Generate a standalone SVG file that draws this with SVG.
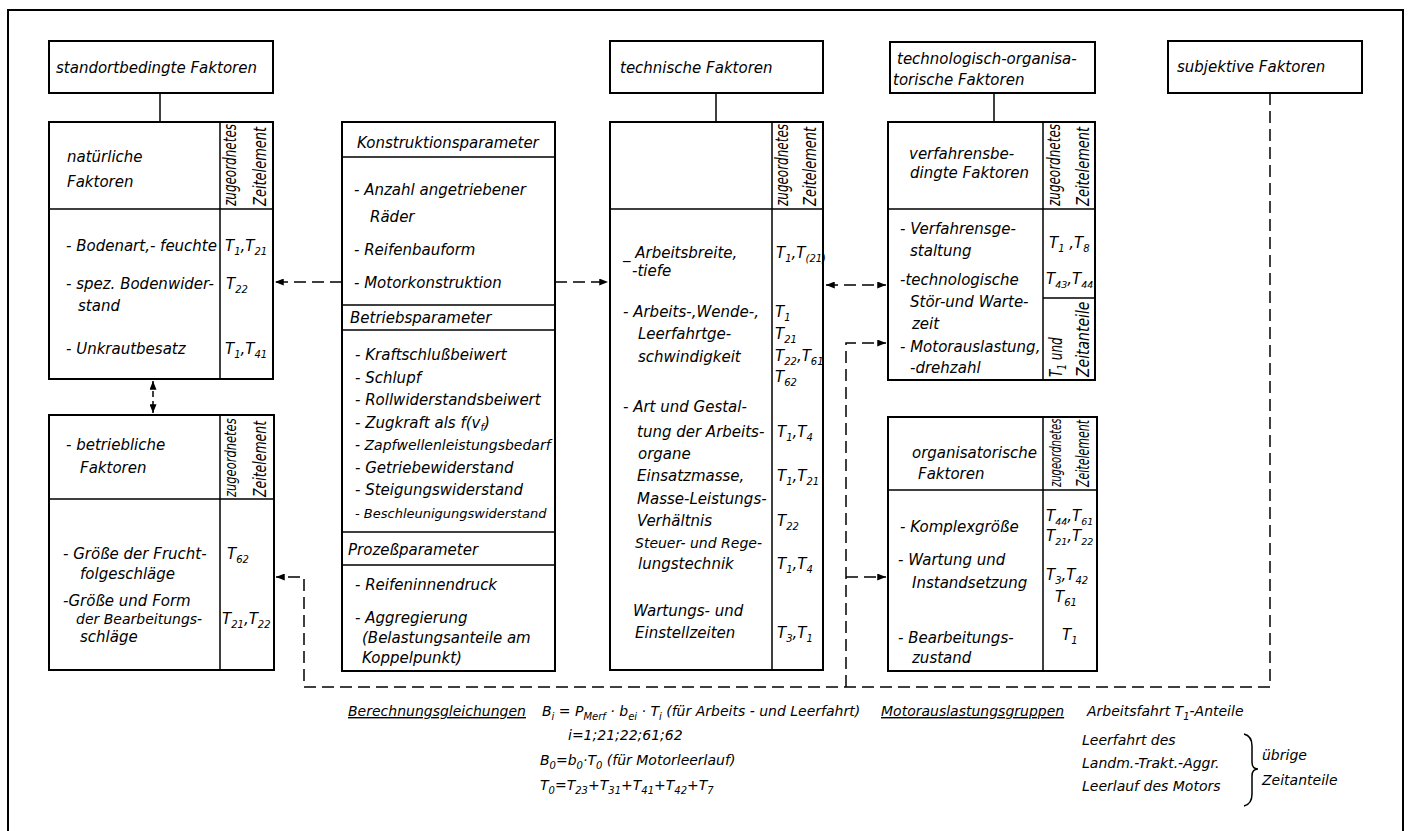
<svg xmlns="http://www.w3.org/2000/svg" width="1410" height="831" viewBox="0 0 1410 831">
<defs>
<style>
text{font-family:"DejaVu Sans","Liberation Sans",sans-serif;font-style:italic;font-size:15px;fill:#000}
.b{font-size:14px}
.m{font-size:14px}
.s{font-size:10px}
.box{fill:#fff;stroke:#000;stroke-width:2}
.ln{fill:none;stroke:#000;stroke-width:1.5}
.dash{fill:none;stroke:#000;stroke-width:1.5;stroke-dasharray:12 6}
.frame{fill:none;stroke:#000;stroke-width:2}
</style>
<marker id="ah" viewBox="0 0 10 8" refX="10" refY="4" markerWidth="11" markerHeight="7" markerUnits="userSpaceOnUse" orient="auto-start-reverse">
<path d="M0,0 L10,4 L0,8 Z" fill="#000"/>
</marker>
</defs>
<rect width="1410" height="831" fill="#fff"/>
<path class="frame" d="M8,840 V10 H1403 V840"/>

<g id="connectors">
<path class="dash" d="M342,282 H275" marker-end="url(#ah)"/>
<path class="dash" d="M555,282 H608" marker-end="url(#ah)"/>
<path class="dash" d="M826,285 H886" marker-start="url(#ah)" marker-end="url(#ah)"/>
<path class="dash" d="M846,687 V343 H886" marker-end="url(#ah)"/>
<path class="dash" d="M846,577 H886" marker-end="url(#ah)"/>
<path class="dash" d="M1270,93 V687 H304 V577 H276" marker-end="url(#ah)"/>
<path class="dash" style="stroke-dasharray:6 4" d="M153,381 V413" marker-start="url(#ah)" marker-end="url(#ah)"/>
<path class="ln" d="M160,93 V122"/>
<path class="ln" d="M716,93 V122"/>
<path class="ln" d="M994,93 V122"/>
</g>

<g id="standort">
<rect class="box" x="49" y="41" width="224" height="52"/>
<text x="56" y="73">standortbedingte Faktoren</text>
</g>

<g id="natuerlich">
<rect class="box" x="49" y="122" width="224" height="257"/>
<path class="ln" d="M49,209 H273 M220,122 V379"/>
<text x="67" y="162">natürliche</text>
<text x="67" y="187">Faktoren</text>
<text style="font-size:12px" transform="translate(236,206) rotate(-90) scale(1,1.4)">zugeordnetes</text>
<text style="font-size:13px" transform="translate(266,206) rotate(-90) scale(1,1.4)">Zeitelement</text>
<text x="66" y="251">- Bodenart,- feuchte</text>
<text x="225" y="251">T<tspan class="s" dy="4">1</tspan><tspan dy="-4">,T</tspan><tspan class="s" dy="4">21</tspan></text>
<text x="66" y="289">- spez. Bodenwider-</text>
<text x="78" y="311">stand</text>
<text x="226" y="289">T<tspan class="s" dy="4">22</tspan></text>
<text x="66" y="354">- Unkrautbesatz</text>
<text x="225" y="354">T<tspan class="s" dy="4">1</tspan><tspan dy="-4">,T</tspan><tspan class="s" dy="4">41</tspan></text>
</g>

<g id="betrieblich">
<rect class="box" x="49" y="415" width="225" height="255"/>
<path class="ln" d="M49,499 H274 M220,415 V670"/>
<text x="66" y="450">- betriebliche</text>
<text x="80" y="473">Faktoren</text>
<text style="font-size:11.5px" transform="translate(236,497) rotate(-90) scale(1,1.45)">zugeordnetes</text>
<text style="font-size:12.5px" transform="translate(266,497) rotate(-90) scale(1,1.45)">Zeitelement</text>
<text x="63" y="559">- Größe der Frucht-</text>
<text x="80" y="579">folgeschläge</text>
<text x="227" y="559">T<tspan class="s" dy="4">62</tspan></text>
<text x="63" y="606">-Größe und Form</text>
<text class="m" x="76" y="624">der Bearbeitungs-</text>
<text x="80" y="642">schläge</text>
<text x="222" y="624">T<tspan class="s" dy="4">21</tspan><tspan dy="-4">,T</tspan><tspan class="s" dy="4">22</tspan></text>
</g>

<g id="parameter">
<rect class="box" x="342" y="122" width="213" height="549"/>
<path class="ln" d="M342,157 H555 M342,305 H555 M342,330 H555 M342,532 H555 M342,565 H555"/>
<text x="357" y="148">Konstruktionsparameter</text>
<text x="354" y="195">- Anzahl angetriebener</text>
<text x="370" y="222">Räder</text>
<text x="354" y="255">- Reifenbauform</text>
<text x="354" y="288">- Motorkonstruktion</text>
<text x="350" y="323">Betriebsparameter</text>
<text x="355" y="360">- Kraftschlußbeiwert</text>
<text x="355" y="383">- Schlupf</text>
<text x="355" y="405">- Rollwiderstandsbeiwert</text>
<text x="355" y="428">- Zugkraft als f(v<tspan class="s" dy="3">f</tspan><tspan dy="-3">)</tspan></text>
<text class="m" x="355" y="450">- Zapfwellenleistungsbedarf</text>
<text x="355" y="473">- Getriebewiderstand</text>
<text x="355" y="495">- Steigungswiderstand</text>
<text style="font-size:13px" x="355" y="518">- Beschleunigungswiderstand</text>
<text x="348" y="555">Prozeßparameter</text>
<text x="355" y="590">- Reifeninnendruck</text>
<text x="355" y="623">- Aggregierung</text>
<text x="362" y="643">(Belastungsanteile am</text>
<text x="362" y="663">Koppelpunkt)</text>
</g>

<g id="technisch-kopf">
<rect class="box" x="610" y="41" width="213" height="52"/>
<text x="620" y="73">technische Faktoren</text>
</g>

<g id="technisch">
<rect class="box" x="610" y="122" width="213" height="548"/>
<path class="ln" d="M610,209 H823 M772,122 V670"/>
<text style="font-size:12px" transform="translate(788,206) rotate(-90) scale(1,1.4)">zugeordnetes</text>
<text style="font-size:13px" transform="translate(816,206) rotate(-90) scale(1,1.4)">Zeitelement</text>
<text x="623" y="258">_ Arbeitsbreite,</text>
<text x="632" y="276">-tiefe</text>
<text x="776" y="258">T<tspan class="s" dy="4">1</tspan><tspan dy="-4">,T</tspan><tspan class="s" dy="4">(21)</tspan></text>
<text x="623" y="317">- Arbeits-,Wende-,</text>
<text x="638" y="339">Leerfahrtge-</text>
<text x="638" y="362">schwindigkeit</text>
<text x="775" y="317">T<tspan class="s" dy="4">1</tspan></text>
<text x="775" y="339">T<tspan class="s" dy="4">21</tspan></text>
<text x="775" y="361">T<tspan class="s" dy="4">22</tspan><tspan dy="-4">,T</tspan><tspan class="s" dy="4">61</tspan></text>
<text x="775" y="382">T<tspan class="s" dy="4">62</tspan></text>
<text x="623" y="412">- Art und Gestal-</text>
<text x="637" y="437">tung der Arbeits-</text>
<text x="638" y="459">organe</text>
<text x="637" y="481">Einsatzmasse,</text>
<text x="637" y="504">Masse-Leistungs-</text>
<text x="637" y="526">Verhältnis</text>
<text x="777" y="437">T<tspan class="s" dy="4">1</tspan><tspan dy="-4">,T</tspan><tspan class="s" dy="4">4</tspan></text>
<text x="777" y="481">T<tspan class="s" dy="4">1</tspan><tspan dy="-4">,T</tspan><tspan class="s" dy="4">21</tspan></text>
<text x="777" y="526">T<tspan class="s" dy="4">22</tspan></text>
<text class="m" x="635" y="548">Steuer- und Rege-</text>
<text x="638" y="569">lungstechnik</text>
<text x="777" y="569">T<tspan class="s" dy="4">1</tspan><tspan dy="-4">,T</tspan><tspan class="s" dy="4">4</tspan></text>
<text x="633" y="616">Wartungs- und</text>
<text x="635" y="638">Einstellzeiten</text>
<text x="777" y="638">T<tspan class="s" dy="4">3</tspan><tspan dy="-4">,T</tspan><tspan class="s" dy="4">1</tspan></text>
</g>

<g id="technologisch-kopf">
<rect class="box" x="890" y="42" width="205" height="51"/>
<text x="897" y="64">technologisch-organisa-</text>
<text x="893" y="85">torische Faktoren</text>
</g>

<g id="verfahren">
<rect class="box" x="888" y="122" width="207" height="258"/>
<path class="ln" d="M888,209 H1095 M1043,122 V380 M1043,298 H1095"/>
<text x="909" y="159">verfahrensbe-</text>
<text x="910" y="178">dingte Faktoren</text>
<text style="font-size:12px" transform="translate(1060,206) rotate(-90) scale(1,1.4)">zugeordnetes</text>
<text style="font-size:13px" transform="translate(1089,206) rotate(-90) scale(1,1.4)">Zeitelement</text>
<text x="900" y="234">- Verfahrensge-</text>
<text x="910" y="256">staltung</text>
<text x="1049" y="248">T<tspan class="s" dy="4">1</tspan><tspan dy="-4"> ,T</tspan><tspan class="s" dy="4">8</tspan></text>
<text x="900" y="285">-technologische</text>
<text x="910" y="307">Stör-und Warte-</text>
<text x="912" y="329">zeit</text>
<text x="1046" y="284">T<tspan style="font-size:9.5px" dy="4">43</tspan><tspan dy="-4">,T</tspan><tspan style="font-size:9.5px" dy="4">44</tspan></text>
<text x="900" y="352">- Motorauslastung,</text>
<text x="910" y="373">-drehzahl</text>
<text style="font-size:12px" transform="translate(1062,377) rotate(-90) scale(1,1.4)">T<tspan style="font-size:9px" dy="3">1</tspan><tspan dy="-3"> und</tspan></text>
<text style="font-size:14px" transform="translate(1089,377) rotate(-90) scale(1,1.3)">Zeitanteile</text>
</g>

<g id="organisatorisch">
<rect class="box" x="888" y="417" width="209" height="254"/>
<path class="ln" d="M888,490 H1097 M1043,417 V671"/>
<text x="912" y="458">organisatorische</text>
<text x="918" y="479">Faktoren</text>
<text style="font-size:10px" transform="translate(1061,487) rotate(-90) scale(1,1.65)">zugeordnetes</text>
<text style="font-size:11px" transform="translate(1089,487) rotate(-90) scale(1,1.6)">Zeitelement</text>
<text x="900" y="532">- Komplexgröße</text>
<text x="1046" y="521">T<tspan style="font-size:9.5px" dy="4">44</tspan><tspan dy="-4">,T</tspan><tspan style="font-size:9.5px" dy="4">61</tspan></text>
<text x="1046" y="541">T<tspan style="font-size:9.5px" dy="4">21</tspan><tspan dy="-4">,T</tspan><tspan style="font-size:9.5px" dy="4">22</tspan></text>
<text x="898" y="565">- Wartung und</text>
<text x="912" y="588">Instandsetzung</text>
<text x="1046" y="580">T<tspan class="s" dy="4">3</tspan><tspan dy="-4">,T</tspan><tspan class="s" dy="4">42</tspan></text>
<text x="1055" y="602">T<tspan class="s" dy="4">61</tspan></text>
<text x="898" y="643">- Bearbeitungs-</text>
<text x="912" y="663">zustand</text>
<text x="1062" y="640">T<tspan class="s" dy="4">1</tspan></text>
</g>

<g id="subjektiv">
<rect class="box" x="1168" y="41" width="194" height="52"/>
<text x="1177" y="72">subjektive Faktoren</text>
</g>

<g id="legende">
<text class="b" x="348" y="716" text-decoration="underline">Berechnungsgleichungen</text>
<text class="b" x="542" y="716">B<tspan class="s" dy="4">i</tspan><tspan dy="-4"> = P</tspan><tspan class="s" dy="4">Merf</tspan><tspan dy="-4"> · b</tspan><tspan class="s" dy="4">ei</tspan><tspan dy="-4"> · T</tspan><tspan class="s" dy="4">i</tspan><tspan dy="-4"> (für Arbeits - und Leerfahrt)</tspan></text>
<text class="b" x="568" y="740">i=1;21;22;61;62</text>
<text class="b" x="540" y="765">B<tspan class="s" dy="4">0</tspan><tspan dy="-4">=b</tspan><tspan class="s" dy="4">0</tspan><tspan dy="-4">·T</tspan><tspan class="s" dy="4">0</tspan><tspan dy="-4"> (für Motorleerlauf)</tspan></text>
<text class="b" x="540" y="790">T<tspan class="s" dy="4">0</tspan><tspan dy="-4">=T</tspan><tspan class="s" dy="4">23</tspan><tspan dy="-4">+T</tspan><tspan class="s" dy="4">31</tspan><tspan dy="-4">+T</tspan><tspan class="s" dy="4">41</tspan><tspan dy="-4">+T</tspan><tspan class="s" dy="4">42</tspan><tspan dy="-4">+T</tspan><tspan class="s" dy="4">7</tspan></text>
<text class="b" x="881" y="716" text-decoration="underline">Motorauslastungsgruppen</text>
<text class="b" x="1087" y="716">Arbeitsfahrt T<tspan class="s" dy="4">1</tspan><tspan dy="-4">-Anteile</tspan></text>
<text class="b" x="1082" y="745">Leerfahrt des</text>
<text class="b" x="1082" y="768">Landm.-Trakt.-Aggr.</text>
<text class="b" x="1082" y="791">Leerlauf des Motors</text>
<path class="ln" d="M1244,734 Q1252,736 1252,746 V762 Q1252,769 1258,769 Q1252,769 1252,776 V794 Q1252,804 1244,806"/>
<text class="b" x="1262" y="760">übrige</text>
<text class="b" x="1262" y="785">Zeitanteile</text>
</g>
</svg>
